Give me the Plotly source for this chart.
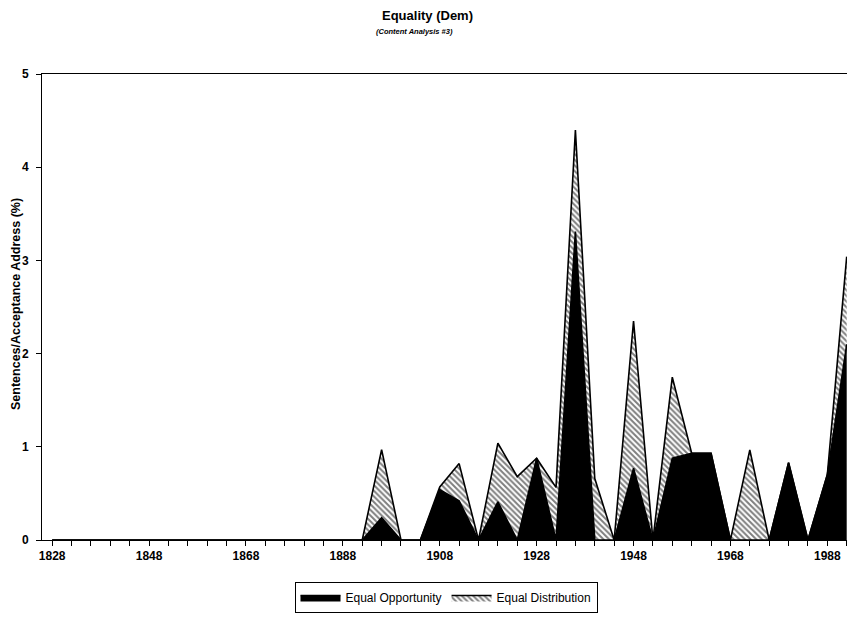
import plotly.graph_objects as go

years = list(range(1828, 1993, 4))

# Equal Opportunity (black), values by year (%)
equal_opportunity = {
    1896: 0.24, 1908: 0.54, 1912: 0.42, 1920: 0.41, 1928: 0.877,
    1936: 3.31, 1948: 0.77, 1956: 0.877, 1960: 0.93, 1964: 0.93,
    1980: 0.83, 1988: 0.70, 1992: 2.10,
}
# Equal Distribution (hatched), stacked on top (%)
equal_distribution = {
    1896: 0.73, 1908: 0.03, 1912: 0.40, 1920: 0.63, 1924: 0.68,
    1932: 0.565, 1936: 1.09, 1940: 0.66, 1948: 1.58, 1956: 0.87,
    1972: 0.966, 1992: 0.94,
}

eo_vals = [equal_opportunity.get(y, 0.0) for y in years]
ed_vals = [equal_distribution.get(y, 0.0) for y in years]

x_tick_labels = [str(y) for y in range(1828, 1993, 20)]
y_tick_vals = [0, 1, 2, 3, 4, 5]

FONT = "Liberation Sans, Arial, sans-serif"

# page body has an 8px margin: plot area placed at 42..853 x, 74..540 y on screen
OFF = 8
L, R, T, B = 42 - OFF, 853 - OFF, 74 - OFF, 540 - OFF
W, H = 855, 618

fig = go.Figure()
fig.add_trace(go.Scatter(
    x=years, y=eo_vals, name="Equal Opportunity", stackgroup="one",
    mode="lines", line=dict(color="black", width=1.6),
    fillcolor="black",
))
fig.add_trace(go.Scatter(
    x=years, y=ed_vals, name="Equal Distribution", stackgroup="one",
    mode="lines", line=dict(color="black", width=1.6),
    fillcolor="white",
    fillpattern=dict(shape="\\", fgcolor="black", bgcolor="white",
                     size=4, solidity=0.5),
))

fig.update_layout(
    width=W, height=H,
    margin=dict(l=L, r=W - R, t=T, b=H - B, autoexpand=False),
    paper_bgcolor="white", plot_bgcolor="white",
    font=dict(family=FONT, color="black", size=12),
    showlegend=True,
    legend=dict(
        orientation="h", x=(446 - 42) / 811, xanchor="center",
        y=(540 - 582) / 466, yanchor="top",
        bordercolor="black", borderwidth=1, traceorder="normal",
        font=dict(family=FONT, size=12, color="black"),
        itemwidth=40,
    ),
    annotations=[
        dict(text="<b>Equality (Dem)</b>", xref="paper", yref="paper",
             x=(427 - 42) / 811, y=(540 - 16) / 466, xanchor="center",
             yanchor="middle", showarrow=False,
             font=dict(family=FONT, size=13, color="black")),
        dict(text="<b><i>(Content Analysis #3)</i></b>", xref="paper",
             yref="paper", x=(414 - 42) / 811, y=(540 - 32) / 466,
             xanchor="center", yanchor="middle", showarrow=False,
             font=dict(family=FONT, size=7.5, color="black")),
        dict(text="<b>Sentences/Acceptance Address (%)</b>", xref="paper",
             yref="paper", x=(16 - 42) / 811, y=(540 - 304) / 466,
             xanchor="center", yanchor="middle", textangle=-90,
             showarrow=False,
             font=dict(family=FONT, size=12.5, color="black")),
    ],
)

fig.update_xaxes(
    range=[1825.9, 1993.3], automargin=False,
    tickmode="array", tickvals=[int(t) for t in x_tick_labels],
    ticktext=x_tick_labels,
    ticks="outside", ticklen=5, tickwidth=1, tickcolor="black",
    minor=dict(tickmode="linear", tick0=1828, dtick=4, ticks="outside",
               ticklen=5, tickcolor="black", showgrid=False),
    showline=True, linecolor="black", linewidth=1, mirror=True,
    showgrid=False, zeroline=False,
    tickfont=dict(family=FONT, size=12, color="black", weight="bold"),
)
fig.update_yaxes(
    range=[0, 5], tickvals=y_tick_vals, automargin=False,
    ticks="outside", ticklen=5, tickwidth=1, tickcolor="black",
    ticklabelstandoff=5,
    showline=True, linecolor="black", linewidth=1, mirror=True,
    showgrid=False, zeroline=False,
    tickfont=dict(family=FONT, size=12, color="black", weight="bold"),
)

fig.write_html("out.html")
